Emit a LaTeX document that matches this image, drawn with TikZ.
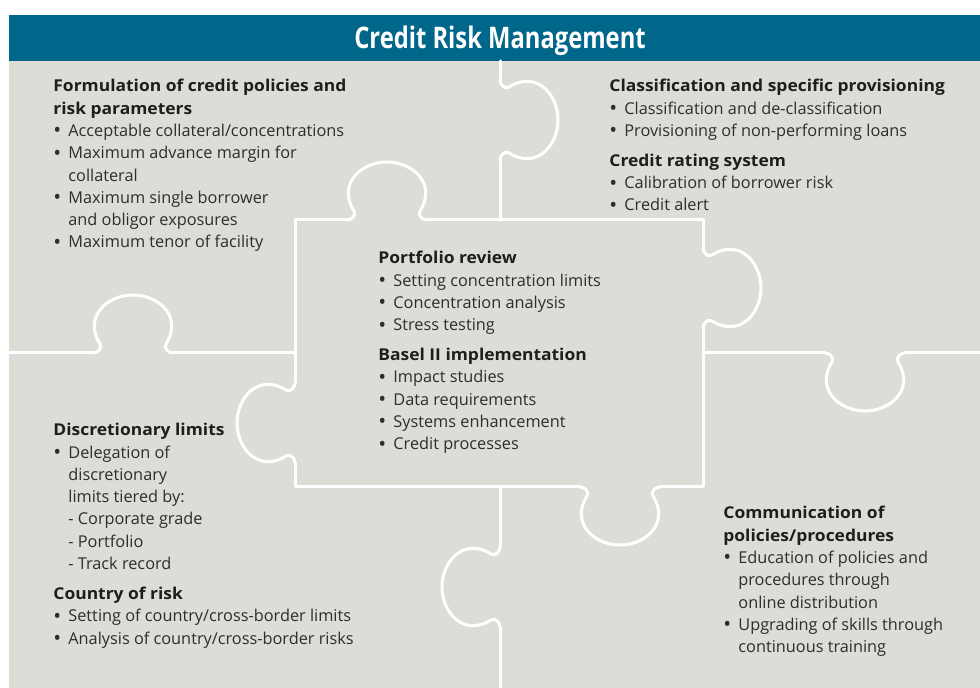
\documentclass[tikz,border=0pt]{standalone}
\usepackage{fontspec}
\setmainfont{Open Sans}
\newfontfamily\titlefont[FakeStretch=0.8]{Open Sans}
\newfontfamily\headfont[FakeStretch=1.07]{Open Sans}

% bullet and hanging indent for the item lists
\newcommand\bul{\makebox[7.5pt][l]{\raisebox{-0.7pt}{\fontsize{10.5}{10.5}\selectfont\textbullet}}}
\newcommand\ind{\hspace*{7.5pt}}
\newcommand\hd[1]{{\headfont\bfseries\color{headgrey}#1}}

\tikzset{
  seam/.style={white, line width=1.5pt, line cap=round, line join=round},
  txt/.style={anchor=north west, inner sep=0pt, align=left, text=textgrey,
    font=\fontsize{8.15}{11.15}\selectfont},
  % one puzzle knob, neck from (0,0) to (80,0), bulging to -y
  tab/.pic={
    \draw[seam] (0,0) .. controls (5,0) and (9.5,-5) .. (7,-9)
      .. controls (-10,-36) and (14,-58) .. (40,-58)
      .. controls (66,-58) and (90,-36) .. (73,-9)
      .. controls (70.5,-5) and (75,0) .. (80,0);
  }
}

\begin{document}
\begin{tikzpicture}[x=0.5pt, y=-0.5pt]

% Colors
\definecolor{petrol}{RGB}{0,102,138}
\definecolor{paper}{RGB}{221,220,214}
\definecolor{textgrey}{RGB}{45,45,45}
\definecolor{headgrey}{RGB}{30,30,30}

\useasboundingbox (0,0) rectangle (980,688);
\fill[white] (0,0) rectangle (980,688);

% Header bar
\fill[petrol] (9,15) rectangle (980,61);
\node[text=white, font=\titlefont\bfseries\fontsize{14.85}{16}\selectfont] (title) at (500,41) {Credit Risk Management};

% Puzzle background
\fill[paper] (9,61) rectangle (980,688);

% Top seam between the two upper pieces
\draw[seam] (500,61) -- (500,80);
\pic[rotate=-90] at (500,80) {tab};
\draw[seam] (500,160) -- (500,220);

% Centre piece
\draw[seam] (295,220) -- (347,220);
\pic at (347,220) {tab};
\draw[seam] (427,220) -- (703,220) -- (703,248);
\pic[rotate=-90] at (703,248) {tab};
\draw[seam] (703,328) -- (703,487) -- (660,487);
\pic[yscale=-1] at (580,487) {tab};
\draw[seam] (580,487) -- (295,487) -- (295,463);
\pic[rotate=90] at (295,463) {tab};
\draw[seam] (295,383) -- (295,220);

% Left seam
\draw[seam] (9,353) -- (93,353);
\pic at (93,353) {tab};
\draw[seam] (173,353) -- (295,353);

% Right seam
\draw[seam] (703,353) -- (825,353);
\pic[yscale=-1] at (825,353) {tab};
\draw[seam] (905,353) -- (980,353);

% Bottom seam
\draw[seam] (500,487) -- (500,547);
\pic[rotate=90] at (500,627) {tab};
\draw[seam] (500,627) -- (500,688);

% Texts of the pieces
\node[txt] (policies) at (53,79) {%
  \hd{Formulation of credit policies and}\\
  \hd{risk parameters}\\
  \bul Acceptable collateral/concentrations\\
  \bul Maximum advance margin for\\
  \ind collateral\\
  \bul Maximum single borrower\\
  \ind and obligor exposures\\
  \bul Maximum tenor of facility};

\node[txt] (provisioning) at (609,79) {%
  \hd{Classification and specific provisioning}\\
  \bul Classification and de-classification\\
  \bul Provisioning of non-performing loans\\[3.8pt]
  \hd{Credit rating system}\\
  \bul Calibration of borrower risk\\
  \bul Credit alert};

\node[txt] (portfolio) at (378,251) {%
  \hd{Portfolio review}\\
  \bul Setting concentration limits\\
  \bul Concentration analysis\\
  \bul Stress testing\\[3.8pt]
  \hd{Basel II implementation}\\
  \bul Impact studies\\
  \bul Data requirements\\
  \bul Systems enhancement\\
  \bul Credit processes};

\node[txt] (limits) at (53,423) {%
  \hd{Discretionary limits}\\
  \bul Delegation of\\
  \ind discretionary\\
  \ind limits tiered by:\\
  \ind - Corporate grade\\
  \ind - Portfolio\\
  \ind - Track record\\[3.8pt]
  \hd{Country of risk}\\
  \bul Setting of country/cross-border limits\\
  \bul Analysis of country/cross-border risks};

\node[txt] (communication) at (723,506) {%
  \hd{Communication of}\\
  \hd{policies/procedures}\\
  \bul Education of policies and\\
  \ind procedures through\\
  \ind online distribution\\
  \bul Upgrading of skills through\\
  \ind continuous training};

\end{tikzpicture}
\end{document}
